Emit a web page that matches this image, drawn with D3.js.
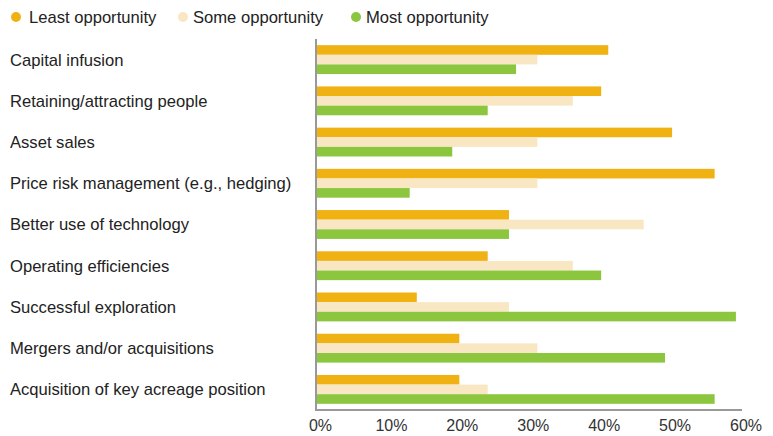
<!DOCTYPE html>
<html lang="en">
<head>
<meta charset="utf-8">
<title>Opportunity</title>
<script src="https://d3js.org/d3.v7.min.js"></script>
<style>
  body { margin: 0; background: #fff; }
  text { font-family: "Liberation Sans", Arial, sans-serif; fill: #222; }
  .label { font-size: 16.6px; }
  .tick text { font-size: 16px; fill: #333; }
</style>
</head>
<body>
<div id="vis"></div>
<script>
const categories = [
  "Capital infusion",
  "Retaining/attracting people",
  "Asset sales",
  "Price risk management (e.g., hedging)",
  "Better use of technology",
  "Operating efficiencies",
  "Successful exploration",
  "Mergers and/or acquisitions",
  "Acquisition of key acreage position"
];
const seriesNames = ["Least opportunity", "Some opportunity", "Most opportunity"];
const least = [41, 40, 50, 56, 27, 24, 14, 20, 20];
const some  = [31, 36, 31, 31, 46, 36, 27, 31, 24];
const most  = [28, 24, 19, 13, 27, 40, 59, 49, 56];
const xTicks = [0, 10, 20, 30, 40, 50, 60];
const colors = ["#f0b112", "#f9e7c4", "#8cc63f"];

const width = 773, height = 436;
const plotLeft = 316, plotRight = 742, plotTop = 39, plotBottom = 410;

const svg = d3.select("#vis").append("svg")
  .attr("width", width).attr("height", height);

const x = d3.scaleLinear().domain([0, 60]).range([plotLeft + 1.5, plotRight + 1]);
const y = d3.scaleBand().domain(categories).range([plotTop, plotBottom])
  .paddingInner(0.3).paddingOuter(0.15);
const ySub = d3.scaleBand().domain(seriesNames).range([0, y.bandwidth()]);

const series = [least, some, most];

// bars
series.forEach((vals, si) => {
  svg.append("g").selectAll("rect")
    .data(vals)
    .enter()
    .append("rect")
    .attr("x", plotLeft)
    .attr("y", (d, i) => y(categories[i]) + ySub(seriesNames[si]))
    .attr("width", d => x(d) - plotLeft)
    .attr("height", ySub.bandwidth())
    .attr("fill", colors[si]);
});

// category labels
svg.append("g").selectAll("text")
  .data(categories)
  .enter()
  .append("text")
  .attr("class", "label")
  .attr("x", 10)
  .attr("y", d => y(d) + y.bandwidth() / 2)
  .attr("dy", "0.36em")
  .text(d => d);

// axes
const xAxis = d3.axisBottom(x).tickValues(xTicks)
  .tickFormat(d => d + "%").tickSize(0).tickPadding(10);
const gx = svg.append("g")
  .attr("transform", "translate(0," + plotBottom + ")")
  .call(xAxis);
gx.select(".domain").remove();
gx.selectAll(".tick text").attr("dx", 2.5);

svg.append("line")
  .attr("x1", plotLeft - 1).attr("x2", plotRight)
  .attr("y1", plotBottom).attr("y2", plotBottom)
  .attr("stroke", "#999").attr("stroke-width", 2);
svg.append("line")
  .attr("x1", plotLeft).attr("x2", plotLeft)
  .attr("y1", plotTop).attr("y2", plotBottom)
  .attr("stroke", "#999").attr("stroke-width", 2);

// legend
const legendX = [16, 183, 356];
const legend = svg.append("g").selectAll("g")
  .data(seriesNames)
  .enter()
  .append("g")
  .attr("transform", (d, i) => "translate(" + legendX[i] + ",17)");
legend.append("circle").attr("r", 5).attr("fill", (d, i) => colors[i]);
legend.append("text").attr("class", "label")
  .attr("x", (d, i) => i === 0 ? 13 : 10).attr("dy", "0.36em").text(d => d);
</script>
</body>
</html>
